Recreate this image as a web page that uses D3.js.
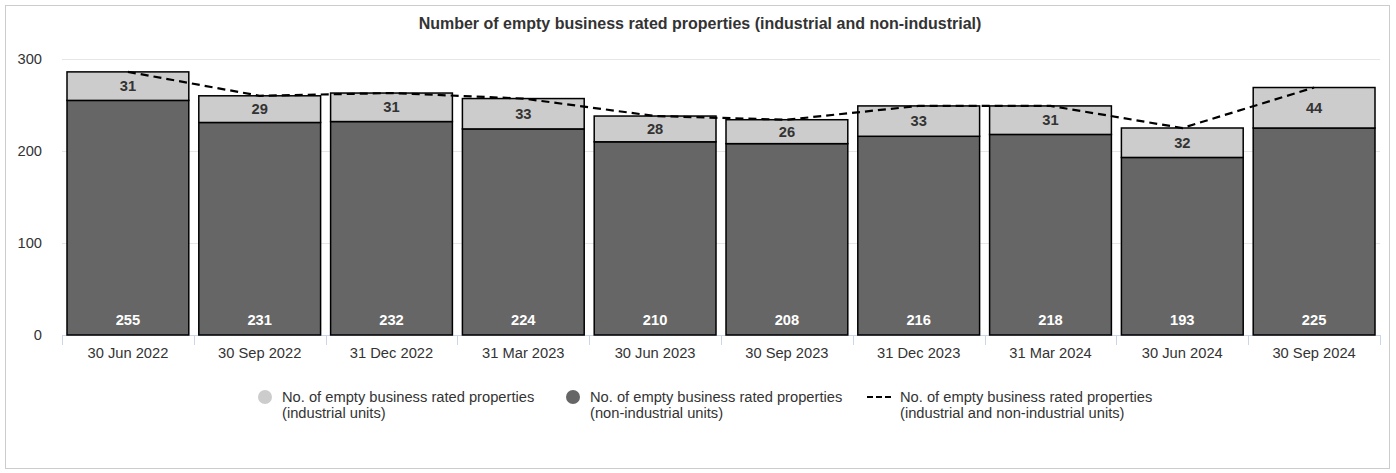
<!DOCTYPE html>
<html><head><meta charset="utf-8">
<script src="https://cdn.jsdelivr.net/npm/d3@7"></script>
<style>body{margin:0;background:#fff;font-family:"Liberation Sans",Arial,sans-serif}</style>
</head><body><svg id="c" width="1396" height="473"></svg>
<script>
const categories = ["30 Jun 2022","30 Sep 2022","31 Dec 2022","31 Mar 2023","30 Jun 2023","30 Sep 2023","31 Dec 2023","31 Mar 2024","30 Jun 2024","30 Sep 2024"];
const industrial = [31,29,31,33,28,26,33,31,32,44];
const nonIndustrial = [255,231,232,224,210,208,216,218,193,225];
const total = industrial.map((v,i)=>v+nonIndustrial[i]);
const yTicks = [0,100,200,300];
const seriesNames = ["No. of empty business rated properties|(industrial units)","No. of empty business rated properties|(non-industrial units)","No. of empty business rated properties|(industrial and non-industrial units)"];

(function(){
const fs=14.7;
const svg = d3.select("#c");
svg.append("rect").attr("x",5.5).attr("y",5.5).attr("width",1384).attr("height",463).attr("fill","#fff").attr("stroke","#cccccc").attr("stroke-width",1);
svg.append("text").attr("x",700).attr("y",29).attr("text-anchor","middle").attr("font-size",16).attr("font-weight","bold").attr("fill","#333").text("Number of empty business rated properties (industrial and non-industrial)");

const pL=62,pR=1380,pT=59,pB=335;
const x=d3.scaleBand().domain(categories).range([pL,pR]).paddingInner(0).paddingOuter(0);
const y=d3.scaleLinear().domain([0,300]).range([pB,pT]);

svg.append("g").selectAll("line").data(yTicks).join("line")
 .attr("x1",pL).attr("x2",pR).attr("y1",d=>Math.round(y(d))+0.5).attr("y2",d=>Math.round(y(d))+0.5)
 .attr("stroke","#e6e6e6");
svg.append("g").selectAll("text").data(yTicks).join("text")
 .attr("x",42).attr("y",d=>y(d)+5).attr("text-anchor","end").attr("font-size",fs).attr("fill","#333").text(d=>d);

const xa=svg.append("g");
xa.append("line").attr("x1",pL).attr("x2",pR).attr("y1",pB+0.5).attr("y2",pB+0.5).attr("stroke","#ccd6eb");
const tickPos=categories.map(c=>x(c)).concat([pR]);
xa.selectAll("line.t").data(tickPos).join("line").attr("class","t")
 .attr("x1",d=>Math.round(d)+0.5).attr("x2",d=>Math.round(d)+0.5).attr("y1",pB).attr("y2",pB+10).attr("stroke","#ccd6eb");
xa.selectAll("text").data(categories).join("text")
 .attr("x",d=>x(d)+x.bandwidth()/2).attr("y",pB+23).attr("text-anchor","middle").attr("font-size",fs).attr("fill","#333").text(d=>d);

const pad=5;
const bw=x.bandwidth()-2*pad;
const g=svg.append("g");
categories.forEach((c,i)=>{
  const bx=x(c)+pad;
  g.append("rect").attr("x",bx).attr("y",y(nonIndustrial[i])).attr("width",bw).attr("height",y(0)-y(nonIndustrial[i]))
   .attr("fill","#666666").attr("stroke","#000").attr("stroke-width",1.5);
  g.append("rect").attr("x",bx).attr("y",y(total[i])).attr("width",bw).attr("height",y(nonIndustrial[i])-y(total[i]))
   .attr("fill","#cccccc").attr("stroke","#000").attr("stroke-width",1.5);
  g.append("text").attr("x",x(c)+x.bandwidth()/2).attr("y",(y(total[i])+y(nonIndustrial[i]))/2+5)
   .attr("text-anchor","middle").attr("font-size",fs).attr("font-weight","bold").attr("fill","#333").text(industrial[i]);
  g.append("text").attr("x",x(c)+x.bandwidth()/2).attr("y",pB-10)
   .attr("text-anchor","middle").attr("font-size",fs).attr("font-weight","bold").attr("fill","#fff").text(nonIndustrial[i]);
});

const line=d3.line().x((d,i)=>x(categories[i])+x.bandwidth()/2).y(d=>y(d));
svg.append("path").datum(total).attr("d",line).attr("fill","none").attr("stroke","#000").attr("stroke-width",2.2).attr("stroke-dasharray","8,5");

const lg=svg.append("g");
const items=[{x:265,type:"circle",color:"#cccccc"},{x:573,type:"circle",color:"#666666"},{x:867,type:"line"}];
items.forEach((it,i)=>{
  if(it.type==="circle") lg.append("circle").attr("cx",it.x).attr("cy",397).attr("r",7).attr("fill",it.color);
  else lg.append("line").attr("x1",it.x).attr("x2",it.x+24).attr("y1",397).attr("y2",397).attr("stroke","#000").attr("stroke-width",2).attr("stroke-dasharray","6,3");
  const tx=it.type==="circle"?it.x+17:it.x+33;
  const t=lg.append("text").attr("font-size",fs).attr("fill","#333");
  seriesNames[i].split("|").forEach((s,k)=>t.append("tspan").attr("x",tx).attr("y",402+k*16).text(s));
});
})();
</script></body></html>
